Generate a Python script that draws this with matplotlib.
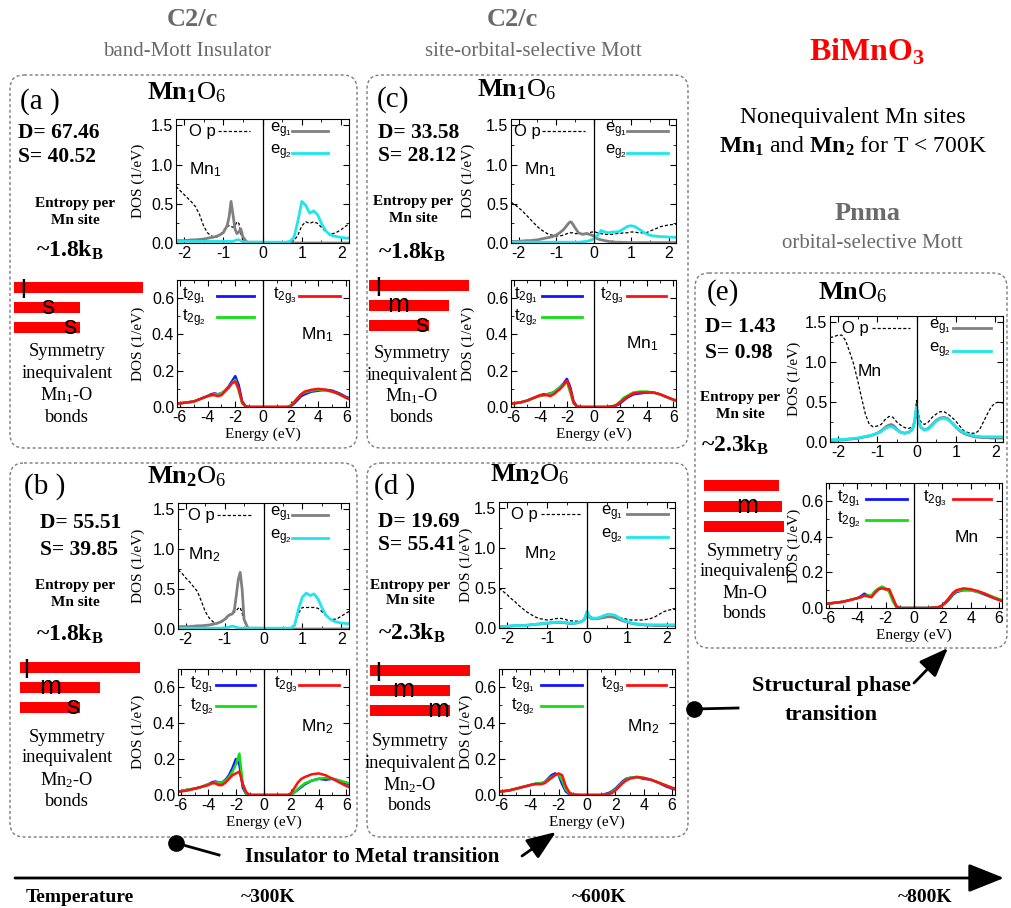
import matplotlib
matplotlib.use("Agg")
import matplotlib.pyplot as plt
from matplotlib.patches import FancyBboxPatch
from matplotlib.ticker import AutoMinorLocator, FormatStrFormatter

plt.rcParams.update({
    "font.family": "Liberation Sans",
    "mathtext.fontset": "custom",
    "mathtext.rm": "Liberation Serif",
    "mathtext.bf": "Liberation Serif:bold",
    "mathtext.it": "Liberation Serif:italic",
    "mathtext.sf": "Liberation Sans",
    "axes.unicode_minus": False,
})
SERIF = "Liberation Serif"

# ---------------------------------------------------------------- data
# energy grids (eV)
E_TOP = [-2.2, -2.1, -2.0, -1.9, -1.8, -1.7, -1.6, -1.5, -1.4, -1.3,
         -1.2, -1.1, -1.0, -0.9, -0.85, -0.8, -0.75, -0.7, -0.65, -0.6,
         -0.55, -0.5, -0.4, -0.3, -0.2, -0.1, -0.05, 0.0, 0.05, 0.1,
         0.2, 0.3, 0.4, 0.5, 0.6, 0.7, 0.8, 0.9, 1.0, 1.1,
         1.2, 1.3, 1.4, 1.5, 1.6, 1.7, 1.8, 1.9, 2.0, 2.1, 2.2]
E_BOT = [-6.5, -6.0, -5.5, -5.0, -4.5, -4.0, -3.75, -3.5, -3.25,
         -3.0, -2.75, -2.5, -2.25, -2.0, -1.75, -1.5, -1.25, -1.0,
         -0.5, 0.0, 0.5, 1.0, 1.5, 1.75, 2.0, 2.25, 2.5,
         2.75, 3.0, 3.5, 4.0, 4.5, 5.0, 5.5, 6.0, 6.5]

# (a) Mn1, band-Mott
A_OP = [0.72, 0.67, 0.62, 0.57, 0.52, 0.46, 0.36, 0.22, 0.13, 0.09,
        0.07, 0.09, 0.15, 0.21, 0.22, 0.21, 0.20, 0.22, 0.27, 0.25,
        0.12, 0.04, 0.02, 0.01, 0.01, 0.01, 0.01, 0.01, 0.01, 0.01,
        0.01, 0.01, 0.01, 0.01, 0.01, 0.01, 0.03, 0.10, 0.22, 0.27,
        0.25, 0.27, 0.25, 0.20, 0.15, 0.12, 0.12, 0.14, 0.17, 0.21, 0.24]
A_EG1 = [0.03, 0.03, 0.03, 0.035, 0.04, 0.04, 0.045, 0.05, 0.06, 0.07,
         0.08, 0.10, 0.13, 0.22, 0.33, 0.53, 0.36, 0.18, 0.12, 0.14,
         0.18, 0.08, 0.01, 0.01, 0.01, 0.01, 0.01, 0.01, 0.005, 0.0,
         0.0, 0.0, 0.0, 0.0, 0.0, 0.0, 0.0, 0.0, 0.0, 0.0,
         0.0, 0.0, 0.0, 0.0, 0.0, 0.0, 0.0, 0.0, 0.0, 0.0, 0.0]
A_EG2 = [0.02, 0.02, 0.02, 0.02, 0.02, 0.02, 0.02, 0.02, 0.02, 0.02,
         0.02, 0.02, 0.02, 0.02, 0.02, 0.02, 0.02, 0.03, 0.04, 0.04,
         0.03, 0.01, 0.01, 0.01, 0.01, 0.01, 0.01, 0.01, 0.01, 0.01,
         0.01, 0.01, 0.01, 0.01, 0.01, 0.02, 0.07, 0.28, 0.53, 0.48,
         0.38, 0.41, 0.36, 0.25, 0.16, 0.11, 0.09, 0.08, 0.07, 0.065, 0.06]
A_T1 = [0.015, 0.02, 0.025, 0.03, 0.045, 0.06, 0.07, 0.075, 0.07,
        0.075, 0.09, 0.11, 0.14, 0.17, 0.12, 0.03, 0.005, 0.0,
        0.0, 0.0, 0.0, 0.0, 0.0, 0.0, 0.005, 0.02, 0.04,
        0.06, 0.07, 0.085, 0.09, 0.095, 0.09, 0.075, 0.055, 0.04]
A_T2 = [0.015, 0.02, 0.025, 0.03, 0.045, 0.06, 0.065, 0.07, 0.07,
        0.075, 0.09, 0.105, 0.13, 0.15, 0.09, 0.02, 0.003, 0.0,
        0.0, 0.0, 0.0, 0.0, 0.0, 0.0, 0.01, 0.03, 0.05,
        0.07, 0.08, 0.09, 0.095, 0.09, 0.085, 0.07, 0.05, 0.035]
A_T3 = [0.015, 0.02, 0.025, 0.03, 0.045, 0.06, 0.065, 0.065, 0.06,
        0.065, 0.085, 0.105, 0.13, 0.14, 0.10, 0.025, 0.003, 0.0,
        0.0, 0.0, 0.0, 0.0, 0.0, 0.0, 0.005, 0.025, 0.05,
        0.07, 0.085, 0.095, 0.10, 0.095, 0.085, 0.07, 0.05, 0.035]

# (b) Mn2, band-Mott
B_OP = [0.74, 0.70, 0.64, 0.59, 0.53, 0.47, 0.35, 0.22, 0.14, 0.09,
        0.07, 0.08, 0.11, 0.16, 0.19, 0.20, 0.21, 0.23, 0.26, 0.27,
        0.20, 0.10, 0.02, 0.01, 0.01, 0.01, 0.01, 0.01, 0.01, 0.01,
        0.01, 0.01, 0.01, 0.01, 0.01, 0.01, 0.04, 0.20, 0.27, 0.27,
        0.27, 0.27, 0.26, 0.22, 0.17, 0.13, 0.12, 0.13, 0.16, 0.19, 0.22]
B_EG1 = [0.03, 0.03, 0.03, 0.03, 0.035, 0.04, 0.04, 0.045, 0.05, 0.06,
         0.07, 0.09, 0.12, 0.17, 0.18, 0.19, 0.24, 0.42, 0.62, 0.71,
         0.50, 0.12, 0.01, 0.01, 0.01, 0.01, 0.01, 0.005, 0.0, 0.0,
         0.0, 0.0, 0.0, 0.0, 0.0, 0.0, 0.0, 0.0, 0.0, 0.0,
         0.0, 0.0, 0.0, 0.0, 0.0, 0.0, 0.0, 0.0, 0.0, 0.0, 0.0]
B_EG2 = [0.01, 0.01, 0.01, 0.01, 0.01, 0.01, 0.01, 0.01, 0.01, 0.01,
         0.01, 0.01, 0.015, 0.02, 0.03, 0.035, 0.03, 0.02, 0.015, 0.01,
         0.01, 0.01, 0.01, 0.01, 0.01, 0.01, 0.01, 0.01, 0.01, 0.01,
         0.01, 0.01, 0.01, 0.01, 0.01, 0.01, 0.05, 0.25, 0.40, 0.45,
         0.42, 0.44, 0.38, 0.27, 0.18, 0.13, 0.10, 0.085, 0.075, 0.07, 0.065]
B_T1 = [0.015, 0.02, 0.03, 0.035, 0.045, 0.06, 0.07, 0.075, 0.07,
        0.07, 0.085, 0.11, 0.15, 0.20, 0.17, 0.04, 0.005, 0.0,
        0.0, 0.0, 0.0, 0.0, 0.0, 0.0, 0.003, 0.015, 0.03,
        0.045, 0.06, 0.08, 0.09, 0.085, 0.09, 0.08, 0.065, 0.05]
B_T2 = [0.015, 0.02, 0.03, 0.035, 0.045, 0.06, 0.065, 0.07, 0.07,
        0.07, 0.08, 0.10, 0.13, 0.17, 0.23, 0.06, 0.005, 0.0,
        0.0, 0.0, 0.0, 0.0, 0.0, 0.0, 0.003, 0.015, 0.035,
        0.05, 0.065, 0.08, 0.09, 0.095, 0.09, 0.08, 0.07, 0.055]
B_T3 = [0.015, 0.02, 0.025, 0.035, 0.045, 0.055, 0.065, 0.065, 0.055,
        0.055, 0.07, 0.09, 0.11, 0.12, 0.13, 0.06, 0.015, 0.0,
        0.0, 0.0, 0.0, 0.0, 0.0, 0.0, 0.01, 0.04, 0.07,
        0.09, 0.10, 0.115, 0.12, 0.11, 0.09, 0.07, 0.05, 0.035]

# (c) Mn1, site-orbital-selective
C_OP = [0.52, 0.49, 0.45, 0.41, 0.36, 0.31, 0.26, 0.21, 0.17, 0.14,
        0.11, 0.10, 0.09, 0.09, 0.095, 0.10, 0.11, 0.12, 0.13, 0.13,
        0.13, 0.12, 0.12, 0.12, 0.12, 0.13, 0.14, 0.14, 0.14, 0.13,
        0.12, 0.11, 0.11, 0.11, 0.12, 0.12, 0.13, 0.13, 0.14, 0.14,
        0.13, 0.13, 0.13, 0.15, 0.17, 0.19, 0.21, 0.22, 0.23, 0.235, 0.24]
C_EG1 = [0.02, 0.02, 0.02, 0.025, 0.03, 0.03, 0.035, 0.04, 0.05, 0.06,
         0.07, 0.08, 0.10, 0.13, 0.15, 0.17, 0.20, 0.23, 0.26, 0.27,
         0.24, 0.20, 0.13, 0.11, 0.12, 0.11, 0.10, 0.09, 0.07, 0.055,
         0.04, 0.03, 0.02, 0.015, 0.01, 0.01, 0.008, 0.006, 0.005, 0.005,
         0.005, 0.005, 0.005, 0.005, 0.005, 0.005, 0.005, 0.005, 0.005, 0.005, 0.005]
C_EG2 = [0.01, 0.01, 0.01, 0.01, 0.01, 0.01, 0.01, 0.01, 0.01, 0.01,
         0.01, 0.01, 0.01, 0.01, 0.01, 0.01, 0.01, 0.01, 0.01, 0.01,
         0.01, 0.01, 0.01, 0.015, 0.02, 0.03, 0.04, 0.055, 0.07, 0.09,
         0.16, 0.14, 0.13, 0.14, 0.14, 0.15, 0.18, 0.21, 0.22, 0.21,
         0.18, 0.15, 0.12, 0.10, 0.09, 0.085, 0.08, 0.08, 0.075, 0.075, 0.07]
C_T1 = [0.015, 0.02, 0.025, 0.035, 0.05, 0.065, 0.07, 0.07, 0.075,
        0.08, 0.095, 0.11, 0.13, 0.155, 0.11, 0.03, 0.005, 0.0,
        0.0, 0.0, 0.0, 0.0, 0.005, 0.01, 0.02, 0.035, 0.05,
        0.06, 0.07, 0.075, 0.08, 0.08, 0.07, 0.055, 0.04, 0.03]
C_T2 = [0.015, 0.02, 0.025, 0.035, 0.05, 0.06, 0.065, 0.07, 0.075,
        0.08, 0.095, 0.11, 0.125, 0.14, 0.08, 0.02, 0.003, 0.0,
        0.0, 0.0, 0.0, 0.0, 0.005, 0.015, 0.03, 0.05, 0.06,
        0.07, 0.08, 0.085, 0.085, 0.08, 0.07, 0.055, 0.04, 0.03]
C_T3 = [0.015, 0.02, 0.025, 0.035, 0.05, 0.065, 0.065, 0.065, 0.06,
        0.07, 0.085, 0.10, 0.12, 0.145, 0.10, 0.025, 0.003, 0.0,
        0.0, 0.0, 0.0, 0.0, 0.005, 0.01, 0.025, 0.04, 0.055,
        0.065, 0.075, 0.08, 0.08, 0.08, 0.07, 0.055, 0.04, 0.03]

# (d) Mn2, site-orbital-selective
D_OP = [0.50, 0.46, 0.42, 0.37, 0.33, 0.28, 0.24, 0.20, 0.17, 0.14,
        0.12, 0.11, 0.10, 0.105, 0.11, 0.115, 0.12, 0.12, 0.12, 0.115,
        0.11, 0.10, 0.09, 0.085, 0.085, 0.09, 0.12, 0.19, 0.16, 0.14,
        0.13, 0.13, 0.135, 0.14, 0.14, 0.14, 0.13, 0.12, 0.11, 0.10,
        0.10, 0.10, 0.10, 0.11, 0.12, 0.14, 0.17, 0.20, 0.22, 0.23, 0.235]
D_EG1 = [0.02, 0.02, 0.02, 0.025, 0.03, 0.03, 0.03, 0.035, 0.04, 0.045,
         0.05, 0.055, 0.06, 0.065, 0.07, 0.07, 0.07, 0.07, 0.07, 0.065,
         0.065, 0.06, 0.055, 0.06, 0.07, 0.09, 0.12, 0.19, 0.14, 0.12,
         0.115, 0.12, 0.13, 0.14, 0.14, 0.13, 0.11, 0.09, 0.075, 0.06,
         0.05, 0.045, 0.04, 0.035, 0.035, 0.03, 0.03, 0.03, 0.03, 0.03, 0.03]
D_EG2 = [0.02, 0.02, 0.02, 0.025, 0.03, 0.03, 0.03, 0.035, 0.04, 0.045,
         0.05, 0.055, 0.06, 0.065, 0.07, 0.07, 0.075, 0.075, 0.075, 0.07,
         0.07, 0.065, 0.06, 0.06, 0.07, 0.09, 0.13, 0.21, 0.15, 0.13,
         0.12, 0.13, 0.15, 0.17, 0.17, 0.16, 0.13, 0.10, 0.08, 0.065,
         0.055, 0.05, 0.045, 0.04, 0.04, 0.04, 0.04, 0.04, 0.04, 0.04, 0.04]
D_T1 = [0.015, 0.02, 0.025, 0.035, 0.045, 0.055, 0.06, 0.065, 0.065,
        0.07, 0.09, 0.11, 0.12, 0.11, 0.06, 0.02, 0.005, 0.0,
        0.0, 0.0, 0.0, 0.0, 0.01, 0.02, 0.035, 0.055, 0.075,
        0.09, 0.095, 0.10, 0.09, 0.085, 0.07, 0.05, 0.035, 0.025]
D_T2 = [0.015, 0.02, 0.025, 0.035, 0.045, 0.055, 0.06, 0.065, 0.065,
        0.07, 0.085, 0.10, 0.11, 0.115, 0.08, 0.03, 0.01, 0.002,
        0.0, 0.0, 0.0, 0.0, 0.005, 0.015, 0.03, 0.05, 0.07,
        0.085, 0.095, 0.10, 0.095, 0.085, 0.07, 0.055, 0.04, 0.03]
D_T3 = [0.015, 0.02, 0.025, 0.035, 0.045, 0.055, 0.06, 0.06, 0.06,
        0.065, 0.08, 0.095, 0.11, 0.12, 0.11, 0.05, 0.015, 0.003,
        0.0, 0.0, 0.0, 0.0, 0.005, 0.01, 0.025, 0.045, 0.065,
        0.08, 0.09, 0.10, 0.095, 0.085, 0.07, 0.055, 0.04, 0.03]

# (e) Mn, Pnma orbital-selective
E_OP = [1.31, 1.32, 1.34, 1.34, 1.27, 1.13, 0.98, 0.78, 0.56, 0.35,
        0.22, 0.19, 0.20, 0.22, 0.25, 0.28, 0.30, 0.32, 0.32, 0.31,
        0.28, 0.25, 0.21, 0.18, 0.17, 0.19, 0.26, 0.52, 0.35, 0.26,
        0.22, 0.25, 0.31, 0.35, 0.38, 0.38, 0.35, 0.31, 0.26, 0.20,
        0.14, 0.12, 0.11, 0.11, 0.15, 0.25, 0.35, 0.44, 0.49, 0.50, 0.49]
E_EG1 = [0.02, 0.02, 0.025, 0.025, 0.03, 0.035, 0.04, 0.045, 0.055, 0.065,
         0.075, 0.09, 0.11, 0.14, 0.16, 0.18, 0.20, 0.21, 0.22, 0.21,
         0.19, 0.16, 0.12, 0.11, 0.12, 0.16, 0.25, 0.42, 0.28, 0.19,
         0.15, 0.17, 0.22, 0.27, 0.30, 0.31, 0.29, 0.24, 0.19, 0.14,
         0.11, 0.09, 0.075, 0.065, 0.06, 0.055, 0.055, 0.05, 0.05, 0.05, 0.05]
E_EG2 = [0.03, 0.03, 0.03, 0.03, 0.035, 0.04, 0.045, 0.05, 0.06, 0.07,
         0.08, 0.09, 0.11, 0.13, 0.15, 0.17, 0.18, 0.19, 0.19, 0.185,
         0.17, 0.15, 0.12, 0.11, 0.12, 0.16, 0.26, 0.44, 0.29, 0.19,
         0.15, 0.16, 0.21, 0.26, 0.29, 0.30, 0.28, 0.24, 0.19, 0.15,
         0.12, 0.10, 0.085, 0.075, 0.07, 0.065, 0.065, 0.065, 0.065, 0.065, 0.065]
E_T1 = [0.02, 0.025, 0.03, 0.035, 0.045, 0.055, 0.065, 0.08, 0.07,
        0.065, 0.09, 0.105, 0.115, 0.105, 0.10, 0.05, 0.01, 0.0,
        0.0, 0.0, 0.0, 0.0, 0.003, 0.005, 0.015, 0.03, 0.05,
        0.075, 0.09, 0.10, 0.10, 0.09, 0.075, 0.06, 0.045, 0.03]
E_T2 = [0.02, 0.025, 0.03, 0.035, 0.045, 0.055, 0.06, 0.07, 0.07,
        0.07, 0.095, 0.11, 0.12, 0.11, 0.09, 0.04, 0.005, 0.0,
        0.0, 0.0, 0.0, 0.0, 0.003, 0.005, 0.015, 0.035, 0.055,
        0.08, 0.095, 0.10, 0.10, 0.09, 0.08, 0.065, 0.05, 0.035]
E_T3 = [0.02, 0.025, 0.03, 0.035, 0.045, 0.055, 0.06, 0.07, 0.065,
        0.06, 0.085, 0.105, 0.11, 0.105, 0.105, 0.06, 0.01, 0.0,
        0.0, 0.0, 0.0, 0.0, 0.003, 0.005, 0.015, 0.035, 0.06,
        0.085, 0.10, 0.11, 0.105, 0.095, 0.08, 0.06, 0.045, 0.03]

# relative Mn-O bond lengths drawn as red bars, and their labels
A_BONDS, A_BOND_LBL = [129, 66, 66], ["l", "s", "s"]
B_BONDS, B_BOND_LBL = [120, 80, 60], ["l", "m", "s"]
C_BONDS, C_BOND_LBL = [100, 80, 60], ["l", "m", "s"]
D_BONDS, D_BOND_LBL = [100, 80, 80], ["l", "m", "m"]
E_BONDS, E_BOND_LBL = [75, 78, 80], ["", "m", ""]

D_VALUES = ["67.46", "55.51", "33.58", "19.69", "1.43"]
S_VALUES = ["40.52", "39.85", "28.12", "55.41", "0.98"]
ENTROPY = ["1.8", "1.8", "1.8", "2.3", "2.3"]
TEMP_LABELS = ["Temperature", "~300K", "~600K", "~800K"]

# ---------------------------------------------------------------- layout
W, H = 1011, 908
fig = plt.figure(figsize=(W / 100, H / 100), dpi=100)
ov = fig.add_axes([0, 0, 1, 1])
ov.set_xlim(0, W)
ov.set_ylim(H, 0)
ov.axis("off")

GRAY_TXT = "#6a6a6a"
CYAN = "#1ee6ef"


def add_ax(x0, y0, x1, y1):
    return fig.add_axes([x0 / W, 1 - y1 / H, (x1 - x0) / W, (y1 - y0) / H])


def style_ax(ax, rect, ylab_px, xt, yt):
    ax.set_xticks(xt)
    ax.set_yticks(yt)
    ax.yaxis.set_major_formatter(FormatStrFormatter("%.1f"))
    ax.xaxis.set_minor_locator(AutoMinorLocator(2))
    ax.yaxis.set_minor_locator(AutoMinorLocator(2))
    ax.tick_params(which="both", direction="in", top=True, right=True,
                   labelsize=11.5, pad=2)
    ax.tick_params(which="major", length=4)
    ax.tick_params(which="minor", length=2)
    ax.axvline(0, color="black", lw=0.9)
    ax.set_ylabel("DOS (1/eV)", family=SERIF, fontsize=11)
    ax.yaxis.set_label_coords((ylab_px + 7 - rect[0]) / (rect[2] - rect[0]), 0.5)


def legend_line(ax, x0, x1, y, **kw):
    ax.plot([x0, x1], [y, y], transform=ax.transAxes, clip_on=False, **kw)


def draw_top(rect, ylab_px, op, eg1, eg2, leg, mn):
    ax = add_ax(*rect)
    ax.plot(E_TOP, op, color="black", lw=0.9, ls=(0, (2.5, 1.6)))
    ax.plot(E_TOP, eg1, color="#808080", lw=2)
    ax.plot(E_TOP, eg2, color=CYAN, lw=2)
    ax.set_xlim(-2.2, 2.2)
    ax.set_ylim(0, 1.58)
    style_ax(ax, rect, ylab_px, [-2, -1, 0, 1, 2], [0, 0.5, 1.0, 1.5])
    opx, op0, op1, egx, eg0, eg1x = leg
    ax.text(opx, 0.90, "O p", transform=ax.transAxes, fontsize=12, va="center")
    legend_line(ax, op0, op1, 0.905, color="black", lw=0.9, ls=(0, (2.5, 1.6)))
    ax.text(egx, 0.91, r"$\mathsf{e_{g_1}}$", transform=ax.transAxes,
            fontsize=12, va="center")
    legend_line(ax, eg0, eg1x, 0.905, color="#808080", lw=2)
    ax.text(egx, 0.73, r"$\mathsf{e_{g_2}}$", transform=ax.transAxes,
            fontsize=12, va="center")
    legend_line(ax, eg0, eg1x, 0.725, color=CYAN, lw=2)
    ax.text(mn[0], mn[1], mn[2], transform=ax.transAxes, fontsize=12.5,
            va="center")
    return ax


def draw_bot(rect, ylab_px, t1, t2, t3, leg, mn):
    ax = add_ax(*rect)
    ax.plot(E_BOT, t1, color="#1414ff", lw=1.8)
    ax.plot(E_BOT, t2, color="#10e010", lw=1.8)
    ax.plot(E_BOT, t3, color="#ff1010", lw=1.8)
    ax.set_xlim(-6.2, 6.2)
    ax.set_ylim(0, 0.7)
    style_ax(ax, rect, ylab_px, [-6, -4, -2, 0, 2, 4, 6], [0, 0.2, 0.4, 0.6])
    ax.set_xlabel("Energy (eV)", family=SERIF, fontsize=11, labelpad=2)
    tx, t0, t1x, t3x, t30, t31 = leg
    ax.text(tx, 0.87, r"$\mathsf{t_{2g_1}}$", transform=ax.transAxes,
            fontsize=12, va="center")
    legend_line(ax, t0, t1x, 0.875, color="#1414ff", lw=2)
    ax.text(tx, 0.70, r"$\mathsf{t_{2g_2}}$", transform=ax.transAxes,
            fontsize=12, va="center")
    legend_line(ax, t0, t1x, 0.705, color="#10e010", lw=2)
    ax.text(t3x, 0.87, r"$\mathsf{t_{2g_3}}$", transform=ax.transAxes,
            fontsize=12, va="center")
    legend_line(ax, t30, t31, 0.875, color="#ff1010", lw=2)
    ax.text(mn[0], mn[1], mn[2], transform=ax.transAxes, fontsize=12.5,
            va="center")
    return ax


def panel_box(x0, y0, x1, y1):
    ov.add_patch(FancyBboxPatch((x0, y0), x1 - x0, y1 - y0,
                                boxstyle="round,pad=0,rounding_size=14",
                                fill=False, ec="#7c7c7c", lw=1.0,
                                ls=(0, (2.2, 1.8))))


def bonds(x0, ycs, lengths, labels, lx):
    ov.barh(ycs, lengths, left=x0, height=11, color="#ff0000", lw=0)
    for yc, lab, x in zip(ycs, labels, lx):
        if lab:
            base = yc + (11 if lab == "l" else 7)
            ov.text(x0 + x, base, lab, fontsize=19, ha="center",
                    va="baseline", color="black")


def side_text(lbl, lbl_xy, title, title_xy, d, s, ds_x, d_y, s_y,
              ent_x, ent_y, kb_xy, kb, sym_x, sym_ys, sym_mn):
    ov.text(*lbl_xy, lbl, family=SERIF, fontsize=21, ha="center", va="center")
    ov.text(*title_xy, title, fontsize=19, ha="center", va="center")
    ov.text(ds_x, d_y, "D= " + d, family=SERIF, fontsize=15.5,
            weight="bold", va="center")
    ov.text(ds_x, s_y, "S= " + s, family=SERIF, fontsize=15.5,
            weight="bold", va="center")
    ov.text(ent_x, ent_y[0], "Entropy per", family=SERIF, fontsize=11,
            weight="bold", ha="center", va="center")
    ov.text(ent_x, ent_y[1], "Mn site", family=SERIF, fontsize=11,
            weight="bold", ha="center", va="center")
    ov.text(*kb_xy, "~" + kb + r"k$_\mathbf{B}$", family=SERIF, fontsize=17,
            weight="bold", ha="center", va="center")
    for txt, y in zip(["Symmetry", "inequivalent", sym_mn, "bonds"], sym_ys):
        ov.text(sym_x, y, txt, family=SERIF, fontsize=13.2, ha="center",
                va="center")


TITLE1 = r"$\mathbf{Mn_1}\mathrm{O_6}$"
TITLE2 = r"$\mathbf{Mn_2}\mathrm{O_6}$"
TITLE0 = r"$\mathbf{Mn}\mathrm{O_6}$"

# panel (a)
panel_box(10, 75, 357, 448)
side_text("(a )", (40, 102), TITLE1, (187, 93), D_VALUES[0], S_VALUES[0],
          18, 133, 157, 75, (203, 221), (70, 250), ENTROPY[0],
          67, (352, 373, 395, 417), r"Mn$_1$-O")
bonds(14, [287, 307.5, 327], A_BONDS, A_BOND_LBL, [9, 34, 56])
draw_top((176, 119, 349, 243), 138, A_OP, A_EG1, A_EG2,
         (0.077, 0.24, 0.43, 0.545, 0.67, 0.88), (0.077, 0.59, r"Mn$_\mathsf{1}$"))
draw_bot((177, 280, 349, 407), 138, A_T1, A_T2, A_T3,
         (0.03, 0.23, 0.45, 0.56, 0.71, 0.95), (0.72, 0.57, r"Mn$_\mathsf{1}$"))

# panel (b)
panel_box(10, 463, 357, 837)
side_text("(b )", (45, 487), TITLE2, (187, 477), D_VALUES[1], S_VALUES[1],
          40, 523, 550, 75, (585, 602), (70, 634), ENTROPY[1],
          67, (737, 758, 780, 802), r"Mn$_2$-O")
bonds(20, [667, 687, 707], B_BONDS, B_BOND_LBL, [6, 30, 53])
draw_top((178, 503, 349, 629), 138, B_OP, B_EG1, B_EG2,
         (0.06, 0.23, 0.43, 0.54, 0.665, 0.88), (0.06, 0.59, r"Mn$_\mathsf{2}$"))
draw_bot((178, 669, 349, 795), 138, B_T1, B_T2, B_T3,
         (0.07, 0.22, 0.45, 0.56, 0.71, 0.94), (0.72, 0.54, r"Mn$_\mathsf{2}$"))

# panel (c)
panel_box(367, 75, 688, 448)
side_text("(c)", (393, 100), TITLE1, (517, 90), D_VALUES[2], S_VALUES[2],
          378, 133, 156, 413, (202, 219), (412, 252), ENTROPY[2],
          412, (353, 375, 396, 417), r"Mn$_1$-O")
bonds(369, [285, 305, 325], C_BONDS, C_BOND_LBL, [9, 29, 53])
draw_top((511, 119, 676, 243), 468, C_OP, C_EG1, C_EG2,
         (0.02, 0.19, 0.45, 0.57, 0.70, 0.95), (0.077, 0.59, r"Mn$_\mathsf{1}$"))
draw_bot((511, 280, 676, 407), 468, C_T1, C_T2, C_T3,
         (0.02, 0.19, 0.43, 0.54, 0.70, 0.94), (0.70, 0.50, r"Mn$_\mathsf{1}$"))

# panel (d)
panel_box(367, 463, 688, 837)
side_text("(d )", (395, 487), TITLE2, (530, 475), D_VALUES[3], S_VALUES[3],
          378, 522, 545, 410, (585, 600), (412, 633), ENTROPY[3],
          410, (742, 763, 785, 805), r"Mn$_2$-O")
bonds(370, [670, 690, 710], D_BONDS, D_BOND_LBL, [8, 33, 68])
draw_top((499, 502, 675, 628), 466, D_OP, D_EG1, D_EG2,
         (0.07, 0.24, 0.47, 0.58, 0.73, 0.96), (0.14, 0.59, r"Mn$_\mathsf{2}$"))
draw_bot((499, 669, 675, 795), 466, D_T1, D_T2, D_T3,
         (0.07, 0.24, 0.47, 0.58, 0.73, 0.95), (0.73, 0.54, r"Mn$_\mathsf{2}$"))

# panel (e)
panel_box(695, 273, 1007, 648)
side_text("(e)", (723, 293), TITLE0, (853, 293), D_VALUES[4], S_VALUES[4],
          705, 327, 353, 740, (398, 415), (735, 445), ENTROPY[4],
          745, (552, 572, 593, 613), "Mn-O")
bonds(704, [485, 506, 526], E_BONDS, E_BOND_LBL, [0, 43, 0])
draw_top((830, 316, 1003, 442), 794, E_OP, E_EG1, E_EG2,
         (0.067, 0.24, 0.46, 0.575, 0.71, 0.93), (0.16, 0.56, "Mn"))
draw_bot((826, 483, 1002, 608), 794, E_T1, E_T2, E_T3,
         (0.06, 0.23, 0.46, 0.55, 0.72, 0.94), (0.73, 0.56, "Mn"))

# headers
ov.text(192, 20, "C2/c", family=SERIF, fontsize=19, weight="bold",
        color=GRAY_TXT, ha="center", va="center")
ov.text(187, 52, "band-Mott Insulator", family=SERIF, fontsize=15,
        color=GRAY_TXT, ha="center", va="center")
ov.text(512, 20, "C2/c", family=SERIF, fontsize=19, weight="bold",
        color=GRAY_TXT, ha="center", va="center")
ov.text(533, 52, "site-orbital-selective Mott", family=SERIF, fontsize=15,
        color=GRAY_TXT, ha="center", va="center")
ov.text(867, 52, r"BiMnO$_\mathbf{3}$", family=SERIF, fontsize=23,
        weight="bold", color="#ff0000", ha="center", va="center")
ov.text(853, 117, "Nonequivalent Mn sites", family=SERIF, fontsize=17,
        ha="center", va="center")
ov.text(853, 146, r"$\mathbf{Mn_1}$ and $\mathbf{Mn_2}$ for T < 700K",
        family=SERIF, fontsize=17, ha="center", va="center")
ov.text(868, 213, "Pnma", family=SERIF, fontsize=19, weight="bold",
        color=GRAY_TXT, ha="center", va="center")
ov.text(872, 243, "orbital-selective Mott", family=SERIF, fontsize=15,
        color=GRAY_TXT, ha="center", va="center")

# transitions
arrow_kw = dict(arrowstyle="-|>,head_length=0.9,head_width=0.35", lw=2,
                color="black", shrinkA=0, shrinkB=0, mutation_scale=20)
ov.plot([176, 219], [843, 855], color="black", lw=2)
ov.plot(176, 843, "o", ms=11, color="black")
ov.text(372, 857, "Insulator to Metal transition", family=SERIF, fontsize=15,
        weight="bold", ha="center", va="center")
ov.annotate("", xy=(556, 832), xytext=(522, 856), arrowprops=arrow_kw)

ov.plot([694, 738], [709, 708], color="black", lw=2)
ov.plot(694, 709, "o", ms=11, color="black")
ov.text(832, 686, "Structural phase", family=SERIF, fontsize=16,
        weight="bold", ha="center", va="center")
ov.text(831, 715, "transition", family=SERIF, fontsize=16,
        weight="bold", ha="center", va="center")
ov.annotate("", xy=(948, 648), xytext=(914, 683), arrowprops=arrow_kw)

# temperature axis
ov.annotate("", xy=(1004, 878), xytext=(15, 878),
            arrowprops=dict(arrowstyle="-|>,head_length=1.0,head_width=0.4",
                            lw=2, color="black", shrinkA=0, shrinkB=0,
                            mutation_scale=22))
for lab, x in zip(TEMP_LABELS, [80, 268, 599, 925]):
    ov.text(x, 898, lab, family=SERIF, fontsize=14, weight="bold",
            ha="center", va="center")

fig.savefig("out.png", dpi=100)
